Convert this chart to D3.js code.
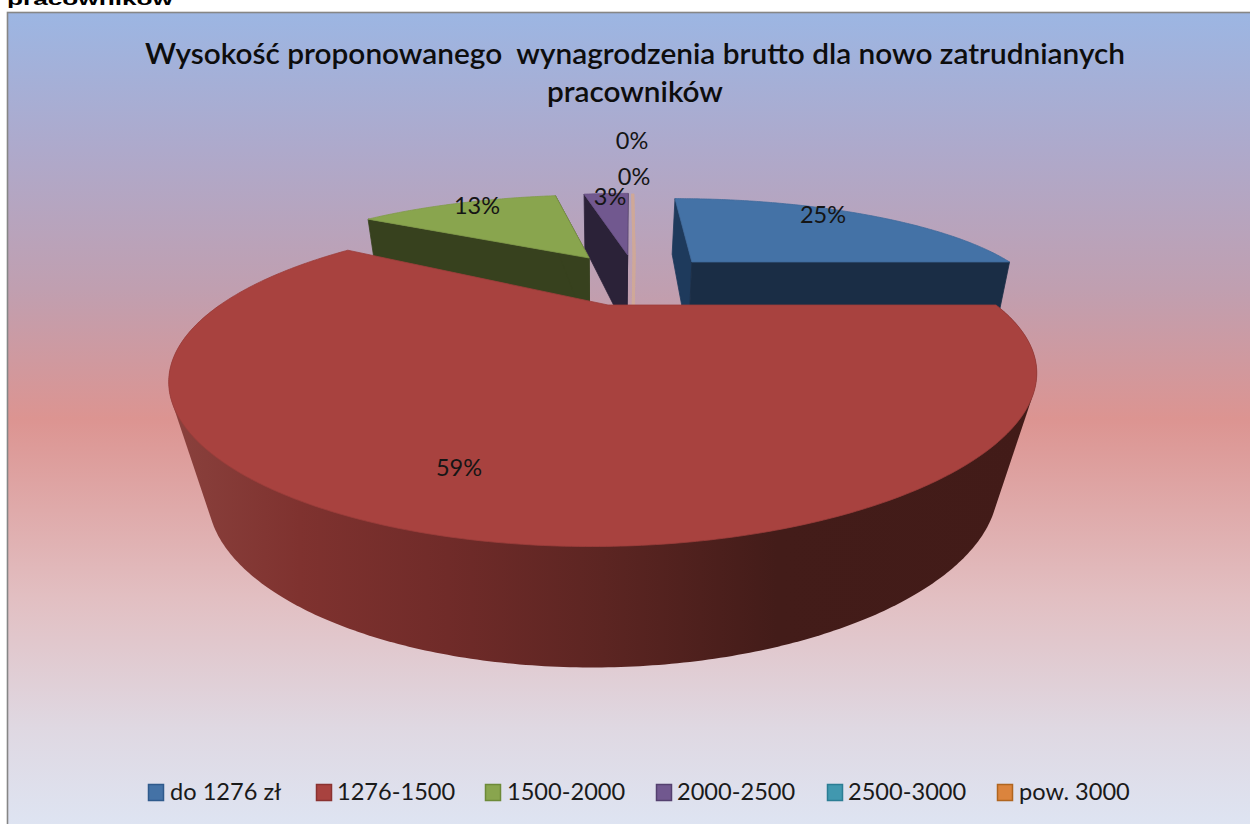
<!DOCTYPE html>
<html><head><meta charset="utf-8">
<script src="https://cdn.jsdelivr.net/npm/d3@7"></script>
<style>html,body{margin:0;padding:0;background:#fff;overflow:hidden}svg{display:block}</style>
</head><body><svg id="c" width="1250" height="824"></svg>
<script>
const categories = ["do 1276 zł","1276-1500","1500-2000","2000-2500","2500-3000","pow. 3000"];
const values = [25,59,13,3,0,0];
const valueLabels = ["25%","59%","13%","3%","0%","0%"];
const titleLines = ["Wysokość proponowanego  wynagrodzenia brutto dla nowo zatrudnianych","pracowników"];
const topColors = ["#4472a6","#a8423f","#89a54e","#71588f","#4198af","#db843d"];
const legendBorder = ["#2f5a8c","#8a3230","#6d8a38","#54406f","#2b7d94","#b0651f"];
const sideColors = ["#1e3a5c","#a8423f","#37411e","#2b2238","#cfa898","#cfa898"];
const sideColors2 = ["#1a2d45","#a8423f","#37411e","#2b2238","#cfa898","#cfa898"];
// Per-slice explosion in plane units, and radius factor
const explodeU = [0.245,0,-0.069,0.05,0.07,0.07];
const explodeV = [-0.399,0,-0.444,-0.478,-0.47,-0.47];
const radiusK  = [0.965,1,1,1,1,1];
const labelX = [823,459,477,610,632,634];
const labelY = [215,468,206,197,141,177];
const legendSwatchX = [148,316,485,656,827,997];
const legendTextX = [170,337,507,677,848,1019];

const svg = d3.select("#c");
const defs = svg.append("defs");
const bg = defs.append("linearGradient").attr("id","bg").attr("x1",0).attr("y1",0).attr("x2",0).attr("y2",1);
[[0,"#9cb6e3"],[0.17,"#aea9cb"],[0.34,"#c09fb0"],[0.5,"#dc9491"],[0.72,"#e2bfc2"],[0.88,"#dfd8e2"],[1,"#dee4f2"]]
  .forEach(([o,c])=>bg.append("stop").attr("offset",o).attr("stop-color",c));
const wall = defs.append("linearGradient").attr("id","wall").attr("gradientUnits","userSpaceOnUse")
  .attr("x1",170).attr("y1",0).attr("x2",1037).attr("y2",0);
[[0,"#8a413d"],[0.15,"#7f322f"],[0.32,"#702b29"],[0.5,"#5c2522"],[0.7,"#431c19"],[1,"#421b18"]]
  .forEach(([o,c])=>wall.append("stop").attr("offset",o).attr("stop-color",c));

svg.append("rect").attr("x",7.5).attr("y",12.5).attr("width",1244).attr("height",813)
  .attr("fill","url(#bg)").attr("stroke","#868686").attr("stroke-width",1.6);
svg.append("text").attr("x",7).attr("y",5).attr("font-family","Liberation Sans").attr("font-weight","bold")
  .attr("font-size",17).attr("textLength",166).attr("lengthAdjust","spacingAndGlyphs").text(titleLines[1]);

// perspective
const Xv=629, Xc=608, R=388, Yc=305, K=128, px=0.4475, py=0.47, Nx=604;
function proj(u,v){
  const s=1/(1-px*v);
  return [Xv+(Xc+R*u-Xv)*s, Yc+K*v/(1-py*v)];
}
function lower(i,p){
  if(i===1) return [Nx+(p[0]-Nx)*0.91, p[1]+115+(p[1]-385)*0.037];
  return [Nx+(p[0]-Nx)*0.96, p[1]+55+(p[1]-197)*0.36];
}
const pie=d3.pie().sort(null).value(d=>d).startAngle(0).endAngle(2*Math.PI);
const arcs=pie(values);
const line=d3.line();
const g=svg.append("g");
function rim(i,a0,a1){
  const n=Math.max(2,Math.ceil((a1-a0)/0.01));
  return d3.range(n+1).map(k=>{
    const a=a0+(a1-a0)*k/n;
    return proj(explodeU[i]+radiusK[i]*Math.sin(a),explodeV[i]-radiusK[i]*Math.cos(a));
  });
}
function poly(points,fill,stroke){
  g.append("path").attr("d",line(points)+"Z").attr("fill",fill)
   .attr("stroke",stroke||fill).attr("stroke-width",0.8).attr("stroke-linejoin","round");
}
function drawSlice(i){
  const a=arcs[i], A=proj(explodeU[i],explodeV[i]), AL=lower(i,A);
  const r=rim(i,a.startAngle,a.endAngle);
  if(values[i]===0){
    g.append("path").attr("d",line([r[0],A,AL])).attr("fill","none")
      .attr("stroke",sideColors[i]).attr("stroke-width",3);
    return;
  }
  if(i===1){
    // outer wall: silhouette of the near half of the rim and its lower copy
    const near=rim(i,Math.PI/2,3*Math.PI/2);
    const hull=d3.polygonHull(near.concat(near.map(p=>lower(i,p))));
    g.append("path").attr("d",line(hull)+"Z").attr("fill","url(#wall)");
  } else {
    const first=r[0], last=r[r.length-1];
    poly([first,A,AL,lower(i,first)],i===0?sideColors[i]:sideColors2[i]);
    poly([last,A,AL,lower(i,last)],sideColors2[i]);
  }
  poly([A].concat(r),topColors[i],d3.color(topColors[i]).darker(0.2));
}
[4,5,3,2,0,1].forEach(drawSlice);

const font="Lato, 'Open Sans', sans-serif";
svg.append("text").attr("x",635).attr("y",64).attr("text-anchor","middle").attr("font-family",font)
  .attr("font-weight",600).attr("font-size",28).attr("textLength",980).attr("lengthAdjust","spacingAndGlyphs")
  .style("white-space","pre").attr("fill","#0d0d0d").text(titleLines[0]);
svg.append("text").attr("x",635).attr("y",102).attr("text-anchor","middle").attr("font-family",font)
  .attr("font-weight",600).attr("font-size",28).attr("textLength",176).attr("lengthAdjust","spacingAndGlyphs")
  .attr("fill","#0d0d0d").text(titleLines[1]);

svg.selectAll("text.v").data(valueLabels).join("text").attr("class","v")
  .attr("x",(d,i)=>labelX[i]).attr("y",(d,i)=>labelY[i]+8).attr("text-anchor","middle")
  .attr("font-family",font).attr("font-size",23.5).attr("fill","#151515").text(d=>d);

const lg=svg.append("g");
categories.forEach((c,i)=>{
  lg.append("rect").attr("x",legendSwatchX[i]+0.5).attr("y",784.5).attr("width",15).attr("height",16)
    .attr("fill",topColors[i]).attr("stroke",legendBorder[i]).attr("stroke-width",1.5);
  lg.append("text").attr("x",legendTextX[i]).attr("y",800).attr("font-family",font)
    .attr("font-size",23.6).attr("fill","#1a1a1a").text(c);
});
</script></body></html>
